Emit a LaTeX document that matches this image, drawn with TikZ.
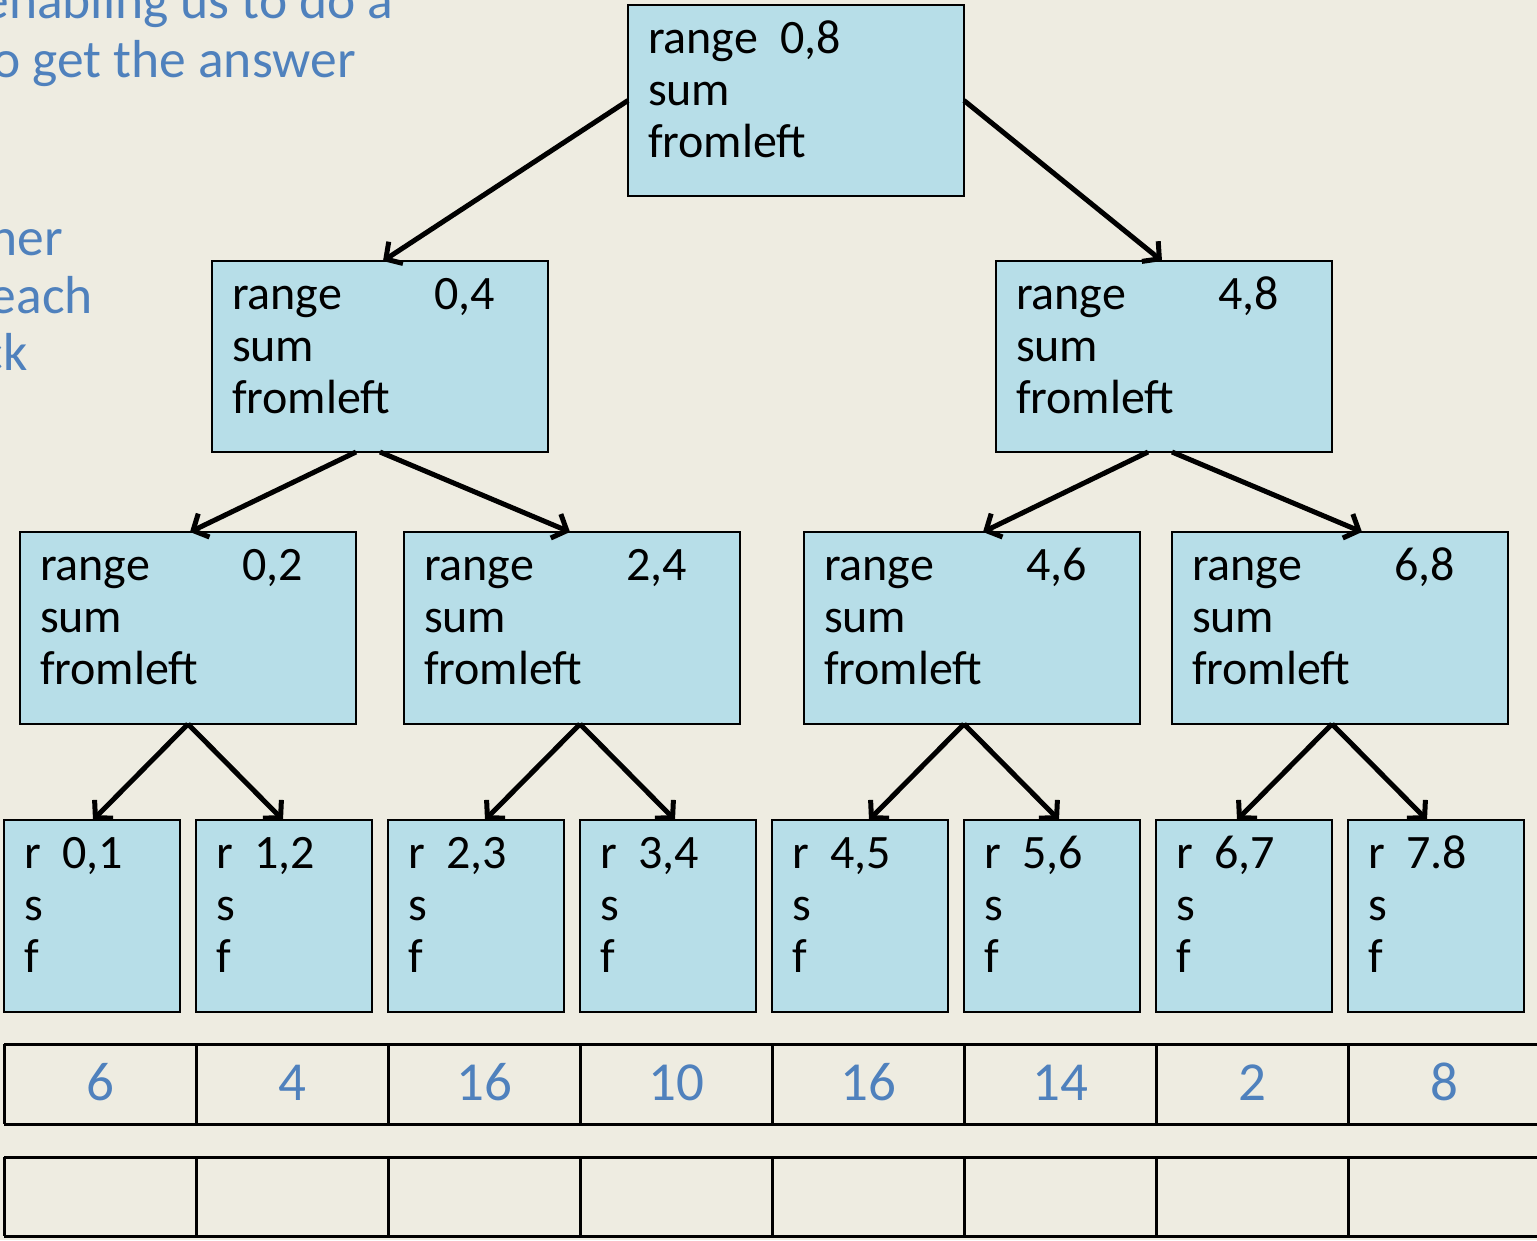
\documentclass[tikz,border=0pt]{standalone}
\usepackage{fontspec}
\setmainfont{Carlito}
\usetikzlibrary{arrows.meta}
\definecolor{bgc}{HTML}{EEECE1}
\definecolor{boxc}{HTML}{B7DEE8}
\definecolor{bluec}{HTML}{4F81BD}
\newcommand{\bxtxt}[5]{\parbox[c][#2][t]{#1}{\fontsize{48}{52}\selectfont\rule{0pt}{48pt}\makebox[#3][l]{#4}#5}}
\tikzset{
  tbox/.style={draw=black, line width=2.4pt, fill=boxc, inner xsep=20pt, inner ysep=0pt, outer sep=0pt, anchor=north west},
  conn/.style={line width=5pt, -{Straight Barb[length=12pt,width=26pt]}},
  numtxt/.style={text=bluec, font=\fontsize{55}{60}\selectfont, anchor=base, inner sep=0pt},
  bluetxt/.style={text=bluec, font=\fontsize{53.5}{58}\selectfont, anchor=base east, inner sep=0pt},
  tline/.style={line width=3pt, black},
}
\begin{document}
\begin{tikzpicture}[x=1pt,y=-1pt]
\useasboundingbox (0,0) rectangle (1537,1240);
\fill[bgc] (0,0) rectangle (1537,1240);
\clip (0,0) rectangle (1537,1240);

% blue background text fragments
\node[bluetxt] (t1) at (394,18) {enabling us to do a};
\node[bluetxt] (t2) at (356,77) {o get the answer};
\node[bluetxt] (t3) at (63,255) {ner};
\node[bluetxt] (t4) at (93,313) {each};
\node[bluetxt] (t5) at (28,370) {ck};

% root
\node[tbox] (root) at (628,5) {\bxtxt{296pt}{191pt}{132pt}{range}{0,8\\sum\\fromleft}};
% level 1
\node[tbox] (a) at (212,261) {\bxtxt{296pt}{191pt}{202pt}{range}{0,4\\sum\\fromleft}};
\node[tbox] (b) at (996,261) {\bxtxt{296pt}{191pt}{202pt}{range}{4,8\\sum\\fromleft}};
% level 2
\node[tbox] (aa) at (20,532) {\bxtxt{296pt}{192pt}{202pt}{range}{0,2\\sum\\fromleft}};
\node[tbox] (ab) at (404,532) {\bxtxt{296pt}{192pt}{202pt}{range}{2,4\\sum\\fromleft}};
\node[tbox] (ba) at (804,532) {\bxtxt{296pt}{192pt}{202pt}{range}{4,6\\sum\\fromleft}};
\node[tbox] (bb) at (1172,532) {\bxtxt{296pt}{192pt}{202pt}{range}{6,8\\sum\\fromleft}};
% leaves
\node[tbox] (l1) at (4,820) {\bxtxt{136pt}{192pt}{38pt}{r}{0,1\\s\\f}};
\node[tbox] (l2) at (196,820) {\bxtxt{136pt}{192pt}{38pt}{r}{1,2\\s\\f}};
\node[tbox] (l3) at (388,820) {\bxtxt{136pt}{192pt}{38pt}{r}{2,3\\s\\f}};
\node[tbox] (l4) at (580,820) {\bxtxt{136pt}{192pt}{38pt}{r}{3,4\\s\\f}};
\node[tbox] (l5) at (772,820) {\bxtxt{136pt}{192pt}{38pt}{r}{4,5\\s\\f}};
\node[tbox] (l6) at (964,820) {\bxtxt{136pt}{192pt}{38pt}{r}{5,6\\s\\f}};
\node[tbox] (l7) at (1156,820) {\bxtxt{136pt}{192pt}{38pt}{r}{6,7\\s\\f}};
\node[tbox] (l8) at (1348,820) {\bxtxt{136pt}{192pt}{38pt}{r}{7.8\\s\\f}};

% connectors
\draw[conn] (root.west) -- ([xshift=3pt]a.north);
\draw[conn] (root.east) -- ([xshift=-2pt]b.north);
\draw[conn] ([xshift=-24pt]a.south) -- ([xshift=2pt]aa.north);
\draw[conn] (a.south) -- ([xshift=-2pt]ab.north);
\draw[conn] ([xshift=-16pt]b.south) -- ([xshift=11pt]ba.north);
\draw[conn] ([xshift=8pt]b.south) -- ([xshift=22pt]bb.north);
\draw[conn] (aa.south) -- ([xshift=1pt]l1.north);
\draw[conn] (aa.south) -- ([xshift=-1pt]l2.north);
\draw[conn] ([xshift=8pt]ab.south) -- ([xshift=9pt]l3.north);
\draw[conn] ([xshift=8pt]ab.south) -- ([xshift=7pt]l4.north);
\draw[conn] ([xshift=-8pt]ba.south) -- ([xshift=9pt]l5.north);
\draw[conn] ([xshift=-8pt]ba.south) -- ([xshift=7pt]l6.north);
\draw[conn] ([xshift=-8pt]bb.south) -- ([xshift=-7pt]l7.north);
\draw[conn] ([xshift=-8pt]bb.south) -- ([xshift=-9pt]l8.north);

% tables
\draw[tline] (4,1044) -- (1545,1044);
\draw[tline] (4,1124) -- (1545,1124);
\draw[tline] (4,1157) -- (1545,1157);
\draw[tline] (4,1236) -- (1545,1236);
\foreach \xx in {4,196,388,580,772,964,1156,1348}{
  \draw[tline] (\xx,1044) -- (\xx,1124);
  \draw[tline] (\xx,1157) -- (\xx,1236);
}
\node[numtxt] (n1) at (100,1100) {6};
\node[numtxt] (n2) at (292,1100) {4};
\node[numtxt] (n3) at (484,1100) {16};
\node[numtxt] (n4) at (676,1100) {10};
\node[numtxt] (n5) at (868,1100) {16};
\node[numtxt] (n6) at (1060,1100) {14};
\node[numtxt] (n7) at (1252,1100) {2};
\node[numtxt] (n8) at (1444,1100) {8};
\end{tikzpicture}
\end{document}
